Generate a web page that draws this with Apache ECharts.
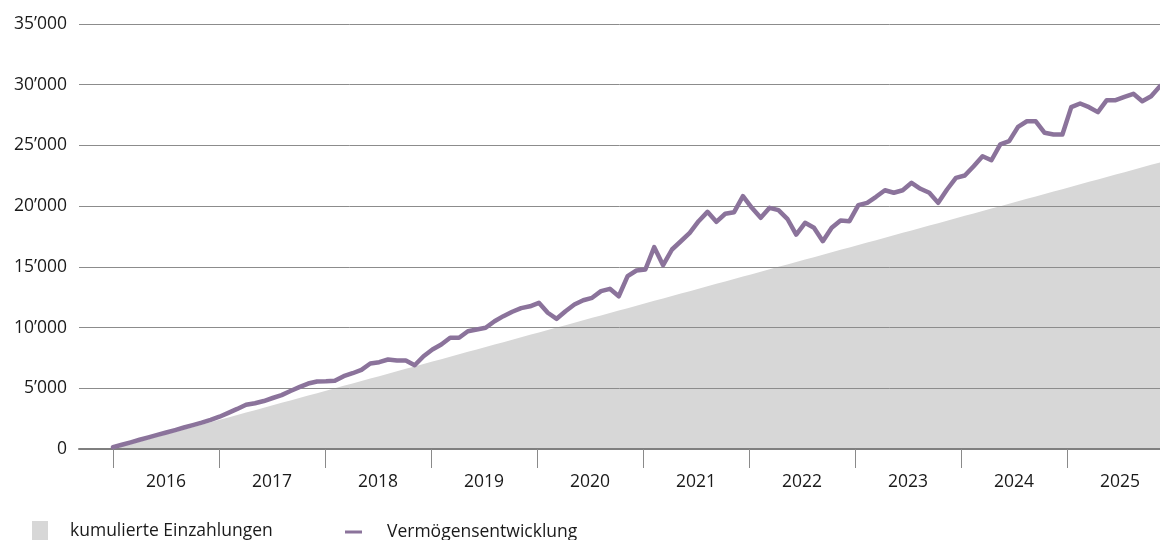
<!DOCTYPE html>
<html>
<head>
<meta charset="utf-8">
<script src="https://cdn.jsdelivr.net/npm/echarts@6/dist/echarts.min.js"></script>
<style>
  html, body { margin: 0; padding: 0; background: #fff; }
  #chart { width: 1160px; height: 540px; }
</style>
</head>
<body>
<div id="chart"></div>
<script>
// Year labels shown under the axis (one per 12 months)
const yearLabels = ['2016', '2017', '2018', '2019', '2020', '2021', '2022', '2023', '2024', '2025'];

// Cumulative monthly deposits (month 0 = start of 2016)
const deposits = [
  0, 200, 400, 600, 800, 1000, 1200, 1400, 1600, 1800, 2000, 2200,
  2400, 2600, 2800, 3000, 3200, 3400, 3600, 3800, 4000, 4200, 4400, 4600,
  4800, 5000, 5200, 5400, 5600, 5800, 6000, 6200, 6400, 6600, 6800, 7000,
  7200, 7400, 7600, 7800, 8000, 8200, 8400, 8600, 8800, 9000, 9200, 9400,
  9600, 9800, 10000, 10200, 10400, 10600, 10800, 11000, 11200, 11400, 11600, 11800,
  12000, 12200, 12400, 12600, 12800, 13000, 13200, 13400, 13600, 13800, 14000, 14200,
  14400, 14600, 14800, 15000, 15200, 15400, 15600, 15800, 16000, 16200, 16400, 16600,
  16800, 17000, 17200, 17400, 17600, 17800, 18000, 18200, 18400, 18600, 18800, 19000,
  19200, 19400, 19600, 19800, 20000, 20200, 20400, 20600, 20800, 21000, 21200, 21400,
  21600, 21800, 22000, 22200, 22400, 22600, 22800, 23000, 23200, 23400, 23600
];

// Portfolio value per month
const wealth = [
  150, 350, 550, 760, 960, 1160, 1360, 1560, 1770, 1970, 2170, 2400,
  2660, 2980, 3300, 3640, 3770, 3950, 4200, 4440, 4780, 5090, 5390, 5560,
  5580, 5620, 6000, 6240, 6520, 7040, 7150, 7370, 7290, 7290, 6900, 7640,
  8190, 8600, 9160, 9160, 9700, 9840, 9980, 10520, 10940, 11300, 11600, 11750,
  12040, 11220, 10720, 11350, 11900, 12250, 12450, 13000, 13190, 12580, 14230, 14700,
  14780, 16620, 15140, 16430, 17110, 17800, 18760, 19530, 18710, 19370, 19500, 20820,
  19860, 19040, 19860, 19670, 18960, 17660, 18630, 18220, 17110, 18220, 18820, 18760,
  20080, 20270, 20770, 21310, 21100, 21310, 21920, 21430, 21100, 20270, 21370, 22330,
  22520, 23290, 24110, 23780, 25080, 25350, 26530, 26990, 26990, 26040, 25900, 25900,
  28150, 28450, 28150, 27740, 28730, 28730, 29000, 29250, 28640, 29050, 29880
];

const seriesNames = ['kumulierte Einzahlungen', 'Vermögensentwicklung'];

const FONT = 'Open Sans';
const FONT_SIZE = 17.5;
const TEXT = '#1a1a1a';
const PURPLE = '#8b739b';
const GREY_AREA = '#d7d7d7';

const yearTicks = yearLabels.map((_, i) => i * 12);
const yearMids = yearLabels.map((_, i) => i * 12 + 6);

function fmtThousands(v) {
  return String(Math.round(v)).replace(/\B(?=(\d{3})+(?!\d))/g, '\u2019');
}

const chart = echarts.init(document.getElementById('chart'), null, { renderer: 'canvas' });

chart.setOption({
  animation: false,
  backgroundColor: '#fff',
  textStyle: { fontFamily: FONT },
  grid: { left: 79, right: 0, top: 24, bottom: 91 },
  xAxis: [
    {
      // data axis: one step per monthly observation
      type: 'value',
      position: 'bottom',
      min: -3.83,
      max: 118,
      z: 2,
      splitLine: { show: false },
      axisLine: { show: true, lineStyle: { color: '#7f7f7f', width: 2 } },
      axisTick: { show: false },
      axisLabel: { show: false }
    },
    {
      // calendar axis: year boundaries and year labels
      type: 'value',
      position: 'bottom',
      offset: 0,
      min: -3.85,
      max: 118.53,
      z: 2,
      splitLine: { show: false },
      axisLine: { show: false },
      axisTick: {
        show: true,
        customValues: yearTicks,
        length: 19,
        lineStyle: { color: '#8a8a8a', width: 1 }
      },
      axisLabel: {
        customValues: yearMids,
        formatter: v => yearLabels[Math.round((v - 6) / 12)],
        margin: 24,
        fontSize: FONT_SIZE,
        color: TEXT,
        fontFamily: FONT
      }
    }
  ],
  yAxis: {
    type: 'value',
    min: 0,
    max: 35000,
    interval: 5000,
    z: 2,
    axisLine: { show: false },
    axisTick: { show: false },
    splitLine: { show: true, lineStyle: { color: '#8c8c8c', width: 1 } },
    axisLabel: {
      formatter: fmtThousands,
      margin: 12,
      fontSize: FONT_SIZE,
      color: TEXT,
      fontFamily: FONT
    }
  },
  legend: [
    {
      data: [{ name: seriesNames[0], icon: 'rect', itemStyle: { color: GREY_AREA } }],
      left: 32,
      top: 521,
      padding: 0,
      itemWidth: 16,
      itemHeight: 20,
      textStyle: { fontSize: FONT_SIZE, color: TEXT, fontFamily: FONT, padding: [0, 0, 0, 17] }
    },
    {
      data: [{ name: seriesNames[1], icon: 'rect', itemStyle: { color: PURPLE } }],
      left: 345,
      top: 523,
      padding: 0,
      itemWidth: 17,
      itemHeight: 3,
      textStyle: { fontSize: FONT_SIZE, color: TEXT, fontFamily: FONT, padding: [0, 0, 0, 20] }
    }
  ],
  series: [
    {
      name: seriesNames[0],
      type: 'line',
      xAxisIndex: 0,
      z: 1,
      data: deposits.map((v, i) => [i, v]),
      showSymbol: false,
      symbol: 'none',
      lineStyle: { width: 0 },
      itemStyle: { color: GREY_AREA },
      areaStyle: { color: GREY_AREA, opacity: 1 }
    },
    {
      name: seriesNames[1],
      type: 'line',
      xAxisIndex: 0,
      z: 3,
      data: wealth.map((v, i) => [i, v]),
      showSymbol: false,
      symbol: 'none',
      lineStyle: { color: PURPLE, width: 4.5, join: 'round', cap: 'round' },
      itemStyle: { color: PURPLE }
    }
  ]
});
</script>
</body>
</html>
